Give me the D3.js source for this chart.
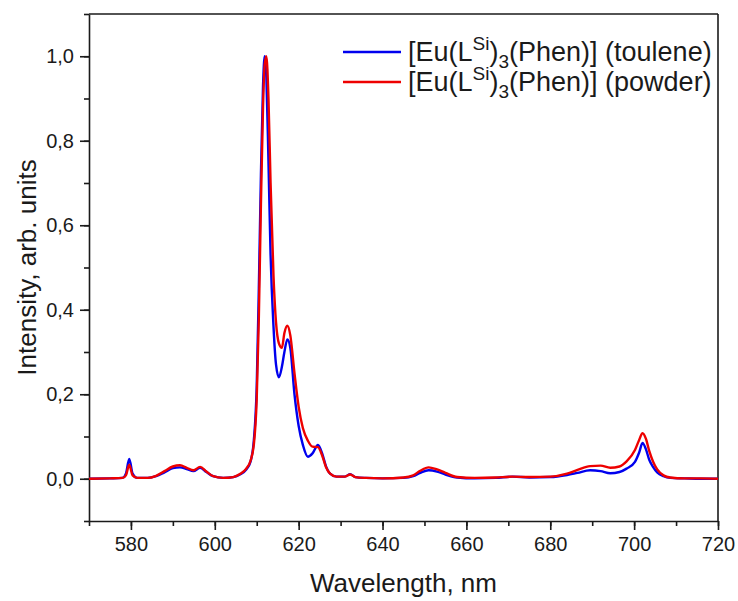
<!DOCTYPE html>
<html>
<head>
<meta charset="utf-8">
<script src="https://cdn.jsdelivr.net/npm/d3@7"></script>
<style>
  body { margin: 0; background: #fff; }
  text { font-family: "Liberation Sans", Arial, sans-serif; fill: #1a1a1a; }
</style>
</head>
<body>
<svg id="chart" width="738" height="601"></svg>
<script>
// wavelength grid (nm), shared by both spectra
var wavelength = [570, 575, 578, 578.8, 579.6, 580.4, 581.5, 584, 586, 588, 590, 591.7, 593.3, 594.9, 596.5, 598, 599.6, 602, 604.4, 606,
  607.5, 608.5, 609.3, 610, 610.5, 611, 611.5, 611.9, 612.3, 612.8, 613.3, 614, 614.6, 615.3, 616, 616.6, 617.3, 618, 619, 620,
  621, 622.2, 623.3, 624.6, 625.6, 626.5, 627.5, 629, 631, 632.3, 633.5, 636, 640, 645, 647.3, 649, 651, 653, 655, 657.8,
  662, 667, 671, 675, 680, 684, 686.5, 689.5, 692, 694.3, 696.5, 698.2, 700.2, 701.2, 702, 702.8, 703.6, 704.5, 705.5, 707,
  708.6, 712, 716, 720];

var toluene = [0, 0.001, 0.002, 0.012, 0.047, 0.012, 0.002, 0.002, 0.006, 0.015, 0.025, 0.027, 0.023, 0.018, 0.026, 0.016, 0.006, 0.002, 0.004, 0.01,
  0.022, 0.04, 0.09, 0.22, 0.45, 0.72, 0.93, 1.0, 0.95, 0.75, 0.53, 0.36, 0.27, 0.24, 0.265, 0.3, 0.33, 0.31, 0.2, 0.125,
  0.08, 0.052, 0.06, 0.08, 0.06, 0.03, 0.012, 0.005, 0.005, 0.011, 0.004, 0.002, 0.001, 0.002, 0.006, 0.014, 0.02, 0.017, 0.01, 0.003,
  0.001, 0.002, 0.005, 0.003, 0.004, 0.009, 0.014, 0.02, 0.018, 0.013, 0.016, 0.024, 0.04, 0.062, 0.085, 0.07, 0.045, 0.028, 0.015, 0.006,
  0.002, 0.001, 0, 0];

var powder = [0, 0.001, 0.002, 0.008, 0.033, 0.008, 0.002, 0.002, 0.007, 0.018, 0.029, 0.032, 0.026, 0.02, 0.028, 0.017, 0.006, 0.002, 0.004, 0.011,
  0.024, 0.042, 0.08, 0.19, 0.38, 0.65, 0.88, 0.98, 1.0, 0.9, 0.7, 0.48, 0.37, 0.32, 0.31, 0.345, 0.362, 0.34, 0.25, 0.17,
  0.12, 0.09, 0.076, 0.075, 0.055, 0.028, 0.012, 0.005, 0.005, 0.01, 0.004, 0.002, 0.001, 0.003, 0.008, 0.019, 0.027, 0.022, 0.014, 0.004,
  0.002, 0.003, 0.005, 0.004, 0.005, 0.012, 0.021, 0.03, 0.031, 0.026, 0.029, 0.041, 0.068, 0.092, 0.108, 0.095, 0.066, 0.041, 0.022, 0.008,
  0.003, 0.001, 0.001, 0];

var xTicks = [580, 600, 620, 640, 660, 680, 700, 720];
var yTicks = [0, 0.2, 0.4, 0.6, 0.8, 1.0];

var width = 738, height = 601;
var margin = {top: 14, right: 20, bottom: 80, left: 89};

var svg = d3.select("#chart");

var x = d3.scaleLinear().domain([570, 720]).range([margin.left, width - margin.right]);
var y = d3.scaleLinear().domain([-0.1, 1.1]).range([height - margin.bottom, margin.top]);

var comma = function (d) { return d3.format(".1f")(d).replace(".", ","); };

// minor ticks first, then major axes on top
svg.append("g")
  .attr("transform", "translate(0," + (height - margin.bottom) + ")")
  .call(d3.axisBottom(x).tickValues(d3.range(570, 721, 10)).tickSize(5).tickFormat(""))
  .call(function (g) { g.select(".domain").remove(); });

svg.append("g")
  .attr("transform", "translate(" + margin.left + ",0)")
  .call(d3.axisLeft(y).tickValues(d3.range(-0.1, 1.11, 0.1)).tickSize(5).tickFormat(""))
  .call(function (g) { g.select(".domain").remove(); });

var xAxis = svg.append("g")
  .attr("transform", "translate(0," + (height - margin.bottom) + ")")
  .call(d3.axisBottom(x).tickValues(xTicks).tickSize(9).tickPadding(7).tickSizeOuter(0));
xAxis.selectAll("text").attr("font-size", 20);

var yAxis = svg.append("g")
  .attr("transform", "translate(" + margin.left + ",0)")
  .call(d3.axisLeft(y).tickValues(yTicks).tickSize(9).tickPadding(6).tickSizeOuter(0).tickFormat(comma));
yAxis.selectAll("text").attr("font-size", 20);

svg.selectAll(".domain, .tick line").attr("stroke", "#1a1a1a").attr("stroke-width", 1.6);

// box: top and right edges
svg.append("line")
  .attr("x1", margin.left).attr("x2", width - margin.right)
  .attr("y1", margin.top).attr("y2", margin.top)
  .attr("stroke", "#1a1a1a").attr("stroke-width", 1.6);
svg.append("line")
  .attr("x1", width - margin.right).attr("x2", width - margin.right)
  .attr("y1", margin.top).attr("y2", height - margin.bottom)
  .attr("stroke", "#1a1a1a").attr("stroke-width", 1.6);

var line = function (vals) {
  return d3.line()
    .x(function (d, i) { return x(wavelength[i]); })
    .y(function (d) { return y(d); })
    .curve(d3.curveMonotoneX)(vals);
};

svg.append("path").attr("d", line(toluene))
  .attr("fill", "none").attr("stroke", "#0000ee").attr("stroke-width", 2.4);
svg.append("path").attr("d", line(powder))
  .attr("fill", "none").attr("stroke", "#ee0000").attr("stroke-width", 2.4);

// axis titles
svg.append("text")
  .attr("x", (margin.left + width - margin.right) / 2)
  .attr("y", 592)
  .attr("text-anchor", "middle")
  .attr("font-size", 26)
  .text("Wavelength, nm");

svg.append("text")
  .attr("transform", "translate(36," + ((margin.top + height - margin.bottom) / 2) + ") rotate(-90)")
  .attr("text-anchor", "middle")
  .attr("font-size", 26)
  .text("Intensity, arb. units");

// legend
var legend = [
  {label: "toulene", color: "#0000ee", yy: 52},
  {label: "powder", color: "#ee0000", yy: 82}
];

legend.forEach(function (d) {
  svg.append("line")
    .attr("x1", 343).attr("x2", 401)
    .attr("y1", d.yy).attr("y2", d.yy)
    .attr("stroke", d.color).attr("stroke-width", 2.4);
  var t = svg.append("text")
    .attr("x", 408).attr("y", d.yy + 9)
    .attr("font-size", 27);
  t.append("tspan").text("[Eu(L");
  t.append("tspan").attr("font-size", 19).attr("dy", -11).text("Si");
  t.append("tspan").attr("dy", 11).text(")");
  t.append("tspan").attr("font-size", 19).attr("dy", 7).text("3");
  t.append("tspan").attr("dy", -7).text("(Phen)] (" + d.label + ")");
});
</script>
</body>
</html>
